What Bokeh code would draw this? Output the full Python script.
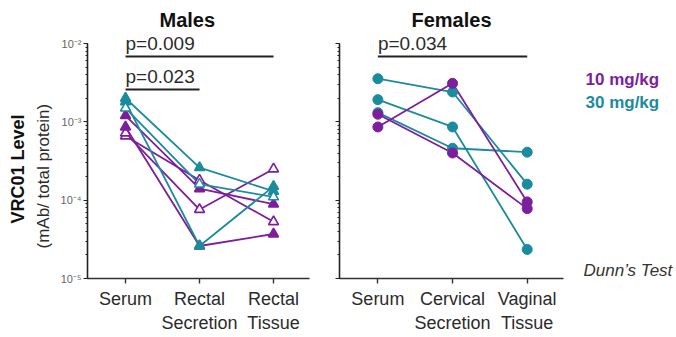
import math
from bokeh.plotting import figure
from bokeh.layouts import row
from bokeh.models import (Range1d, FixedTicker, LogTicker, CustomJSTickFormatter,
                          Label, Title)
from bokeh.embed import file_html
from bokeh.resources import INLINE

# ---------------- data ----------------
male_categories = ["Serum", "Rectal\nSecretion", "Rectal\nTissue"]
female_categories = ["Serum", "Cervical\nSecretion", "Vaginal\nTissue"]

# males (triangles); values in mAb / total protein
m10_open_a = [6.6e-4, 1.8e-4, 5.3e-5]
m10_open_b = [7.2e-4, 7.6e-5, 2.5e-4]
m10_fill_a = [1.2e-3, 1.4e-4, 8.9e-5]
m10_fill_b = [8.6e-4, 2.6e-5, 3.7e-5]
m30_fill_a = [2.0e-3, 2.6e-4, 1.3e-4]
m30_fill_b = [1.8e-3, 2.6e-5, 1.5e-4]
m30_open_a = [1.5e-3, 1.6e-4, 1.1e-4]

# females (circles)
f30_a = [3.55e-3, 2.4e-3, 1.6e-4]
f30_b = [1.92e-3, 8.6e-4, 2.35e-5]
f30_c = [1.31e-3, 4.6e-4, 4.1e-4]
f10_a = [8.6e-4, 3.1e-3, 9.5e-5]
f10_b = [1.25e-3, 4.0e-4, 7.8e-5]

male_pvalues = ["p=0.009", "p=0.023"]
female_pvalues = ["p=0.034"]
dose_labels = ["10 mg/kg", "30 mg/kg"]

# ---------------- styles ----------------
PURPLE = "#7D1E9E"
TEAL = "#1B8B9E"
FONT = "Liberation Sans"
TXT = "#2b2b2b"
H = 337
FRAME_TOP = 30

male_series = [
    (m10_open_a, PURPLE, False), (m10_open_b, PURPLE, False),
    (m10_fill_a, PURPLE, True), (m10_fill_b, PURPLE, True),
    (m30_fill_a, TEAL, True), (m30_fill_b, TEAL, True),
    (m30_open_a, TEAL, False),
]
female_series = [
    (f30_a, TEAL), (f30_b, TEAL), (f30_c, TEAL),
    (f10_a, PURPLE), (f10_b, PURPLE),
]

XS = [0, 1, 2]
AXIS_BOUNDS = (1e-5, 1e-2)
Y_RANGE = (1e-5, 10 ** -1.834)   # a little head-room above 10^-2 for the p-values

sup_code = """
const e = Math.round(Math.log10(tick));
const sup = {"-5":"\u207b\u2075","-4":"\u207b\u2074","-3":"\u207b\u00b3","-2":"\u207b\u00b2"};
return "10" + (sup[String(e)] || "");
"""


def make_fig(width, border_left, border_right, cats, show_ylabels, title):
    p = figure(width=width, height=H, y_axis_type="log",
               x_range=Range1d(-0.514, 2.486), y_range=Range1d(*Y_RANGE),
               output_backend="svg", toolbar_location=None,
               min_border_left=border_left, min_border_right=border_right,
               min_border_top=FRAME_TOP, min_border_bottom=59)
    p.outline_line_color = None
    p.xgrid.grid_line_color = None
    p.ygrid.grid_line_color = None
    p.background_fill_color = "white"
    p.border_fill_color = "white"

    p.title.text = title
    p.title.align = "left"
    p.title.offset = 72
    p.title.text_font = FONT
    p.title.text_font_size = "20px"
    p.title.text_font_style = "bold"
    p.title.text_color = "#111111"
    p.title.standoff = 0

    xa = p.xaxis[0]
    xa.ticker = FixedTicker(ticks=XS)
    xa.major_label_overrides = {i: c for i, c in zip(XS, cats)}
    xa.minor_tick_line_color = None
    xa.major_tick_in = 0
    xa.major_tick_out = 5
    xa.axis_line_width = 1.6
    xa.axis_line_color = "#333333"
    xa.major_tick_line_color = "#333333"
    xa.major_tick_line_width = 1.4
    xa.major_label_text_font = FONT
    xa.major_label_text_font_size = "18px"
    xa.major_label_text_color = TXT
    xa.major_label_standoff = 5

    ya = p.yaxis[0]
    ya.ticker = LogTicker(desired_num_ticks=4, num_minor_ticks=10)
    ya.bounds = AXIS_BOUNDS
    ya.axis_line_width = 1.6
    ya.axis_line_color = "#222222"
    ya.major_tick_line_color = "#222222"
    ya.minor_tick_line_color = "#222222"
    ya.major_tick_in = 0
    ya.minor_tick_in = 0
    ya.major_tick_out = 4
    ya.minor_tick_out = 2
    ya.major_label_text_font = FONT
    ya.major_label_text_font_size = "11px"
    ya.major_label_text_color = "#666666"
    ya.major_label_standoff = 2
    if show_ylabels:
        ya.formatter = CustomJSTickFormatter(code=sup_code)
    else:
        ya.formatter = CustomJSTickFormatter(code="return '';")
    return p


def add_label(p, x, y, text, size, color=TXT, style="normal", align="left",
              baseline="alphabetic", yoff=0):
    p.add_layout(Label(x=x, y=y, text=text, text_font=FONT,
                       text_font_size=size, text_color=color,
                       text_font_style=style, text_align=align,
                       text_baseline=baseline, y_offset=yoff))


bar_hi = 10 ** -2.166
bar_lo = 10 ** -2.586

# ---------------- males ----------------
pm = make_fig(315, 87, 6, male_categories, True, "Males")
for vals, col, filled in male_series:
    pm.line(XS, vals, line_color=col, line_width=1.8)
for vals, col, filled in male_series:
    pm.scatter(XS, vals, marker="triangle", size=10, line_color=col,
               line_width=1.6, fill_color=col if filled else "white")

pm.segment(x0=[0, 0], y0=[bar_hi, bar_lo], x1=[2, 1], y1=[bar_hi, bar_lo],
           line_color="#222222", line_width=2)
add_label(pm, 0, bar_hi, male_pvalues[0], "19px", yoff=13)
add_label(pm, 0, bar_lo, male_pvalues[1], "19px", yoff=13)

pm.add_layout(Title(text="(mAb/ total protein)", text_font=FONT,
                    text_font_size="17px", text_font_style="normal",
                    text_color=TXT, align="left", offset=30, standoff=9), "left")
pm.add_layout(Title(text="VRC01 Level", text_font=FONT,
                    text_font_size="18px", text_font_style="bold",
                    text_color="#111111", align="left", offset=55, standoff=0), "left")

# ---------------- females ----------------
pf = make_fig(250, 24, 2, female_categories, False, "Females")
for vals, col in female_series:
    pf.line(XS, vals, line_color=col, line_width=1.8)
for vals, col in female_series:
    pf.scatter(XS, vals, marker="circle", size=10, line_color=col,
               line_width=1, fill_color=col)

pf.segment(x0=[0], y0=[bar_hi], x1=[2], y1=[bar_hi],
           line_color="#222222", line_width=2)
add_label(pf, 0, bar_hi, female_pvalues[0], "19px", yoff=13)

# ---------------- legend / note panel (frame aligned to the plots) ----------------
pl = figure(width=111, height=H, x_range=Range1d(0, 111), y_range=Range1d(278, FRAME_TOP),
            output_backend="svg", toolbar_location=None,
            x_axis_location=None, y_axis_location=None,
            min_border_left=0, min_border_right=0,
            min_border_top=FRAME_TOP, min_border_bottom=59)
pl.outline_line_color = None
pl.xgrid.grid_line_color = None
pl.ygrid.grid_line_color = None
add_label(pl, 20, 79, dose_labels[0], "17px", color=PURPLE, style="bold",
          baseline="middle")
add_label(pl, 20, 102, dose_labels[1], "17px", color=TEAL, style="bold",
          baseline="middle")
add_label(pl, 18, 270, "Dunn\u2019s Test", "17px", color="#333333",
          style="italic", baseline="middle")

layout = row(pm, pf, pl)
open("out.html", "w").write(file_html(layout, INLINE))
